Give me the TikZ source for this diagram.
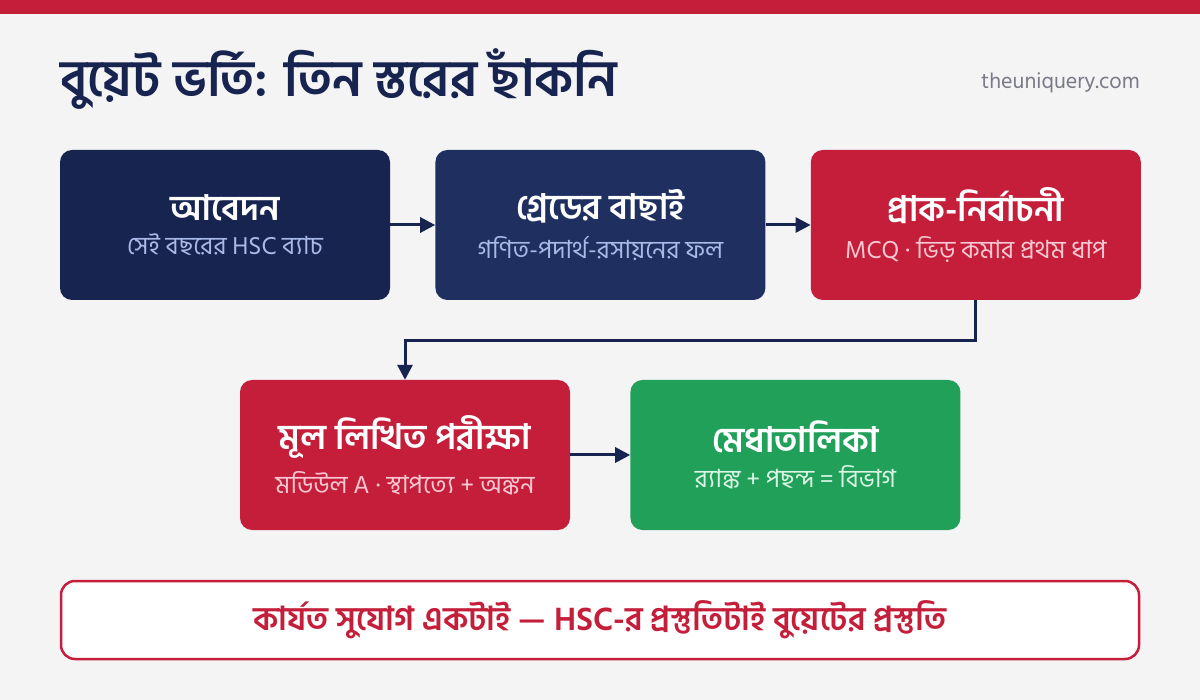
\documentclass[tikz,border=0pt]{standalone}
\usepackage{fontspec}
\setmainfont[Script=Bengali]{Hind Siliguri}
\usetikzlibrary{arrows.meta, positioning}

\definecolor{crimson}{RGB}{196,30,58}
\definecolor{navyA}{RGB}{23,36,80}
\definecolor{navyB}{RGB}{30,47,96}
\definecolor{leafgreen}{RGB}{33,160,90}
\definecolor{paper}{RGB}{244,244,245}
\definecolor{urlgray}{RGB}{122,122,136}
\definecolor{subnavy}{RGB}{170,186,232}
\definecolor{subred}{RGB}{250,200,210}
\definecolor{subgreen}{RGB}{218,246,228}

\newcommand{\stagetitle}[1]{{\fontsize{35}{40}\selectfont\bfseries #1}}
\newcommand{\stagenote}[2]{{\fontsize{25}{30}\selectfont\color{#1}#2}}

\begin{document}
\begin{tikzpicture}[
        x=1pt, y=-1pt,
        node distance=45pt,
        stage/.style={rectangle, rounded corners=12pt, align=center, text=white, minimum width=330pt, minimum height=150pt, inner sep=0pt},
        arrow/.style={line width=3pt, draw=navyA, -{Triangle[length=15pt, width=15pt]}}
    ]

    % Background
    \fill[paper] (0,0) rectangle (1200,700);
    \useasboundingbox (0,0) rectangle (1200,700);
    \fill[crimson] (0,0) rectangle (1200,14);

    % Header
    \node (title) [anchor=west, inner sep=0pt, text=navyA, font=\fontsize{51}{58}\selectfont\bfseries] at (60,79) {বুয়েট ভর্তি: তিন স্তরের ছাঁকনি};
    \node (site) [anchor=east, inner sep=0pt, text=urlgray, font=\fontsize{22}{26}\selectfont] at (1140,83) {theuniquery.com};

    % Nodes
    \node (apply) [stage, fill=navyA] at (225,225) {\stagetitle{আবেদন}\\[12pt]\stagenote{subnavy}{সেই বছরের HSC ব্যাচ}};
    \node (grade) [stage, fill=navyB, right=of apply] {\stagetitle{গ্রেডের বাছাই}\\[12pt]\stagenote{subnavy}{গণিত-পদার্থ-রসায়নের ফল}};
    \node (prelim) [stage, fill=crimson, right=of grade] {\stagetitle{প্রাক-নির্বাচনী}\\[12pt]\stagenote{subred}{MCQ · ভিড় কমার প্রথম ধাপ}};

    \node (written) [stage, fill=crimson] at (405,455) {\stagetitle{মূল লিখিত পরীক্ষা}\\[12pt]\stagenote{subred}{মডিউল A · স্থাপত্যে + অঙ্কন}};
    \node (merit) [stage, fill=leafgreen, right=60pt of written] {\stagetitle{মেধাতালিকা}\\[12pt]\stagenote{subgreen}{র^^^^200d্যাঙ্ক + পছন্দ = বিভাগ}};

    \node (note) [rectangle, rounded corners=14pt, draw=crimson, line width=2.5pt, fill=white, minimum width=1078pt, minimum height=78pt, text=crimson, font=\fontsize{33}{38}\selectfont\bfseries] at (600,620) {কার্যত সুযোগ একটাই — HSC-র প্রস্তুতিটাই বুয়েটের প্রস্তুতি};

    % Arrows
    \draw [arrow] (apply) -- (grade);
    \draw [arrow] (grade) -- (prelim);
    \draw [arrow] (prelim.south) -- ++(0,-40pt) -| (written.north);
    \draw [arrow] (written) -- (merit);

\end{tikzpicture}
\end{document}
